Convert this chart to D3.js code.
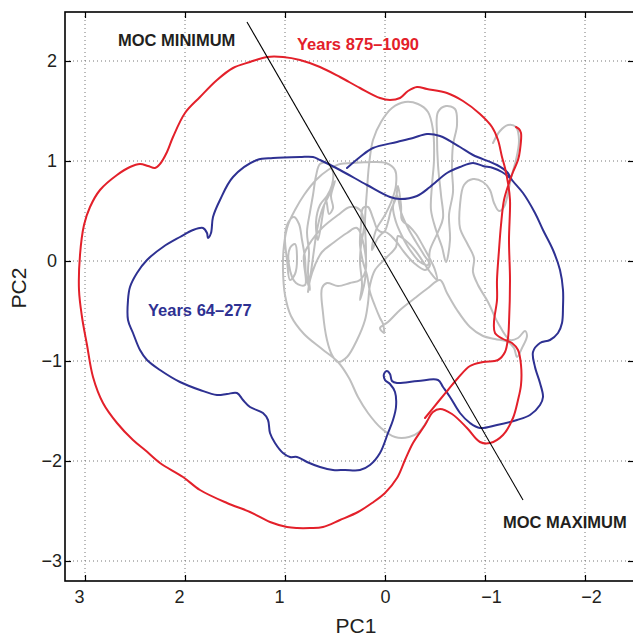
<!DOCTYPE html>
<html>
<head>
<meta charset="utf-8">
<script src="https://cdn.jsdelivr.net/npm/d3@7"></script>
<style>
  html, body { margin: 0; padding: 0; background: #fff; }
  svg { display: block; font-family: "Liberation Sans", Arial, Helvetica, sans-serif; }
</style>
</head>
<body>
<svg id="chart" width="633" height="636"></svg>
<script>
// PC1 / PC2 trajectories, in principal-component units
const xTicks = [3, 2, 1, 0, -1, -2];
const yTicks = [2, 1, 0, -1, -2, -3];

// Years 875–1090 (red)
const redPC1 = [-1.31,-1.34,-1.36,-1.35,-1.33,-1.28,-1.24,-1.19,-1.16,-1.14,-1.12,-1.12,-1.09,-1.10,-1.18,-1.27,-1.33,-1.36,-1.36,-1.33,-1.28,-1.18,-1.05,-0.95,-0.82,-0.67,-0.55,-0.48,-0.40,-0.28,-0.20,-0.12,0.00,0.13,0.27,0.45,0.62,0.75,0.88,0.98,1.15,1.35,1.58,1.85,2.02,2.25,2.40,2.52,2.68,2.82,2.92,2.98,3.03,3.06,3.05,3.01,2.95,2.85,2.68,2.55,2.45,2.37,2.30,2.25,2.18,2.12,2.00,1.85,1.68,1.52,1.35,1.18,1.02,0.85,0.65,0.45,0.25,0.05,-0.05,-0.15,-0.23,-0.32,-0.42,-0.62,-0.78,-0.95,-1.07,-1.13,-1.17,-1.20,-1.23,-1.25,-1.24,-1.25,-1.24,-1.23,-1.20,-1.13,-0.98,-0.85,-0.73,-0.63,-0.53,-0.40];
const redPC2 = [1.34,1.32,1.28,1.11,1.01,0.89,0.78,0.61,0.36,0.11,-0.19,-0.39,-0.61,-0.72,-0.78,-0.82,-0.89,-1.04,-1.24,-1.39,-1.57,-1.74,-1.82,-1.81,-1.67,-1.53,-1.48,-1.51,-1.64,-1.82,-1.99,-2.17,-2.32,-2.42,-2.51,-2.59,-2.66,-2.67,-2.67,-2.66,-2.61,-2.51,-2.42,-2.29,-2.16,-2.02,-1.89,-1.79,-1.62,-1.42,-1.16,-0.84,-0.56,-0.29,0.06,0.36,0.54,0.71,0.86,0.94,0.97,0.95,0.93,0.97,1.09,1.24,1.48,1.64,1.81,1.93,1.99,2.04,2.04,2.01,1.94,1.84,1.73,1.63,1.61,1.63,1.70,1.74,1.72,1.68,1.60,1.47,1.34,1.21,1.04,0.93,0.78,0.61,0.21,-0.19,-0.62,-0.77,-0.91,-0.99,-1.01,-1.05,-1.17,-1.29,-1.41,-1.57];

// Years 64–277 (blue)
const bluePC1 = [0.38,0.25,0.12,-0.12,-0.28,-0.42,-0.55,-0.75,-0.88,-1.12,-1.22,-1.27,-1.38,-1.50,-1.58,-1.68,-1.75,-1.78,-1.78,-1.77,-1.73,-1.65,-1.55,-1.48,-1.50,-1.55,-1.58,-1.55,-1.45,-1.32,-1.12,-0.95,-0.85,-0.75,-0.65,-0.58,-0.53,-0.33,-0.12,-0.07,-0.05,-0.02,0.01,0.00,-0.05,-0.10,-0.11,-0.08,-0.03,0.05,0.15,0.25,0.40,0.52,0.65,0.78,0.88,0.95,1.02,1.10,1.15,1.17,1.22,1.35,1.42,1.48,1.58,1.68,1.85,2.05,2.25,2.38,2.45,2.52,2.57,2.57,2.55,2.48,2.38,2.22,2.05,1.92,1.82,1.78,1.77,1.74,1.72,1.65,1.52,1.28,1.12,0.85,0.72,0.65,0.45,0.18,-0.05,-0.15,-0.32,-0.45,-0.62,-0.75,-0.88,-0.98,-1.08,-1.17,-1.25];
const bluePC2 = [0.93,1.04,1.13,1.19,1.23,1.27,1.25,1.14,1.06,0.96,0.89,0.81,0.68,0.48,0.31,0.11,-0.09,-0.29,-0.46,-0.62,-0.72,-0.79,-0.82,-0.91,-1.06,-1.22,-1.36,-1.44,-1.54,-1.59,-1.64,-1.67,-1.62,-1.52,-1.36,-1.26,-1.19,-1.20,-1.22,-1.20,-1.13,-1.10,-1.13,-1.19,-1.23,-1.31,-1.46,-1.59,-1.72,-1.92,-2.04,-2.09,-2.09,-2.09,-2.06,-2.01,-1.96,-1.96,-1.92,-1.82,-1.72,-1.59,-1.52,-1.46,-1.39,-1.32,-1.33,-1.34,-1.29,-1.21,-1.09,-0.99,-0.89,-0.72,-0.59,-0.39,-0.26,-0.12,0.01,0.14,0.24,0.31,0.33,0.28,0.23,0.28,0.44,0.61,0.84,1.01,1.03,1.04,1.04,1.01,0.91,0.76,0.64,0.62,0.65,0.74,0.88,0.94,0.98,0.95,0.93,0.89,0.83];

// Remaining years (grey), one continuous trajectory
const greyPC1 = [
  -1.08,-1.15,-1.23,-1.31,-1.34,-1.31,-1.26,-1.23,-1.19,-1.14,-1.09,-1.05,-0.98,-0.88,-0.79,-0.75,-0.75,-0.82,-0.89,-0.88,-0.93,-1.03,-1.13,-1.25,-1.33,-1.40,-1.42,-1.37,-1.32,-1.29,-1.23,-1.10,-0.98,-0.85,-0.72,-0.62,-0.55,
  -0.43,-0.30,-0.15,-0.03,0.05,0.01,0.02,
  0.05,0.10,0.15,0.18,0.22,0.25,0.24,0.22,0.17,0.12,0.07,0.01,-0.03,-0.06,-0.11,-0.13,-0.16,-0.17,-0.24,-0.31,-0.38,-0.45,-0.50,-0.52,-0.45,-0.37,-0.29,-0.20,-0.13,-0.11,-0.01,0.10,0.15,0.17,0.20,0.28,0.38,0.47,0.53,0.58,0.62,0.63,0.58,0.47,0.35,0.25,0.19,
  0.28,0.38,0.52,0.63,0.70,0.75,0.77,0.74,0.71,0.68,0.63,0.56,0.50,0.54,0.52,0.56,0.59,
  0.67,0.69,0.65,0.58,0.53,0.52,0.57,0.65,0.69,0.72,0.75,0.78,0.76,0.77,0.75,
  0.79,0.80,0.83,0.86,0.91,0.97,1.00,0.98,0.95,0.90,0.88,0.90,0.95,0.96,0.89,0.80,
  0.81,0.73,0.63,0.47,0.35,0.25,0.21,0.24,0.25,0.23,0.25,0.20,0.19,0.20,0.18,0.16,0.12,0.04,-0.07,-0.20,-0.33,-0.43,-0.48,-0.49,-0.47,-0.46,-0.51,-0.57,-0.61,
  -0.65,-0.64,-0.68,-0.67,-0.68,-0.72,-0.70,-0.61,-0.53,-0.52,-0.53,-0.56,-0.58,-0.53,
  -0.45,-0.43,-0.35,-0.25,-0.17,-0.11,-0.08,-0.12,-0.16,-0.23,-0.31,-0.39,-0.45,-0.40,-0.29,-0.19,-0.10,0.00,0.07,0.13,0.09,0.00,-0.07,-0.11,-0.10,-0.01,0.15,0.33,0.45,0.57,
  0.69,0.81,0.90,0.97,1.01,1.02,1.00,0.94,0.81,0.63,0.47,0.36,0.27,0.17,0.04,-0.10,-0.24,-0.34,-0.42];
const greyPC2 = [
  1.18,1.30,1.36,1.34,1.21,1.01,0.83,0.68,0.54,0.50,0.58,0.71,0.79,0.82,0.76,0.56,0.33,0.18,0.03,-0.11,-0.24,-0.41,-0.62,-0.79,-0.77,-0.70,-0.75,-0.87,-0.96,-0.87,-0.81,-0.78,-0.75,-0.66,-0.49,-0.32,-0.19,
  -0.27,-0.37,-0.49,-0.61,-0.67,-0.72,-0.63,
  -0.57,-0.45,-0.31,-0.14,-0.01,0.16,0.36,0.53,0.54,0.43,0.31,0.29,0.39,0.51,0.63,0.75,0.56,0.41,0.35,0.27,0.15,0.02,-0.09,-0.19,-0.11,0.01,0.12,0.21,0.25,0.14,0.03,-0.09,-0.24,-0.42,-0.59,-0.79,-0.96,-1.01,-0.94,-0.79,-0.52,-0.27,-0.22,-0.25,-0.22,-0.19,-0.07,
  0.33,0.28,0.18,0.09,-0.04,-0.19,-0.31,-0.11,0.11,0.31,0.51,0.66,0.80,0.65,0.53,0.47,0.61,
  0.21,0.39,0.56,0.65,0.76,0.89,0.98,0.97,0.85,0.66,0.49,0.29,0.09,-0.11,-0.29,
  -0.14,0.03,0.21,0.37,0.44,0.38,0.25,0.01,-0.19,-0.13,0.04,0.17,0.13,-0.04,-0.22,-0.24,
  0.06,0.21,0.33,0.46,0.54,0.51,0.36,0.16,-0.01,-0.24,-0.39,-0.19,0.11,0.39,0.71,0.96,1.21,1.39,1.53,1.59,1.57,1.49,1.31,1.01,0.76,0.51,0.31,0.14,-0.01,
  0.21,0.46,0.69,0.91,1.16,1.36,1.52,1.55,1.49,1.26,0.96,0.66,0.43,0.29,
  0.11,-0.04,-0.01,0.11,0.25,0.39,0.54,0.66,0.49,0.33,0.19,0.06,-0.04,-0.09,-0.02,0.09,0.21,0.29,0.23,0.11,0.31,0.46,0.61,0.76,0.91,0.98,0.99,0.98,0.97,0.91,
  0.81,0.66,0.51,0.36,0.16,-0.09,-0.34,-0.55,-0.73,-0.88,-1.01,-1.17,-1.36,-1.52,-1.67,-1.76,-1.76,-1.71,-1.60];

// Dividing line between MOC minimum and maximum states
const mocPC1 = [1.38, -1.38];
const mocPC2 = [2.39, -2.39];

// Text annotations
const annotations = [
  { text: "MOC MINIMUM", pc1: 2.67, pc2: 2.15, color: "#231f20" },
  { text: "Years 875\u20131090", pc1: 0.88, pc2: 2.11, color: "#e3202a" },
  { text: "Years 64\u2013277", pc1: 2.37, pc2: -0.55, color: "#2e3192" },
  { text: "MOC MAXIMUM", pc1: -1.18, pc2: -2.67, color: "#231f20" }
];

(function draw() {
  const svg = d3.select("#chart");
  const plotL = 65, plotR = 634, plotT = 12, plotB = 581;

  // PC1 axis runs from positive (left) to negative (right)
  const x = d3.scaleLinear().domain([3.2, -2.49]).range([plotL, plotR]);
  const y = d3.scaleLinear().domain([2.49, -3.2]).range([plotT, plotB]);

  svg.append("rect").attr("width", 633).attr("height", 636).attr("fill", "#fff");

  // dotted grid
  const grid = svg.append("g").attr("stroke", "#666").attr("stroke-width", 0.9)
    .attr("stroke-dasharray", "1,3");
  grid.selectAll("line.vx").data(xTicks).join("line").attr("class", "vx")
    .attr("x1", d => x(d)).attr("x2", d => x(d)).attr("y1", plotT).attr("y2", plotB);
  grid.selectAll("line.hy").data(yTicks).join("line").attr("class", "hy")
    .attr("y1", d => y(d)).attr("y2", d => y(d)).attr("x1", plotL).attr("x2", plotR);

  const line = d3.line().x(d => x(d[0])).y(d => y(d[1])).curve(d3.curveCatmullRom.alpha(0.5));
  const zip = (a, b) => a.map((v, i) => [v, b[i]]);

  const series = [
    { pc1: greyPC1, pc2: greyPC2, color: "#bfbfbf" },
    { pc1: bluePC1, pc2: bluePC2, color: "#2e3192" },
    { pc1: redPC1, pc2: redPC2, color: "#e3202a" }
  ];
  series.forEach(s => {
    svg.append("path").datum(zip(s.pc1, s.pc2)).attr("d", line)
      .attr("fill", "none").attr("stroke", s.color).attr("stroke-width", 2)
      .attr("stroke-linejoin", "round").attr("stroke-linecap", "round");
  });

  svg.append("line")
    .attr("x1", x(mocPC1[0])).attr("y1", y(mocPC2[0]))
    .attr("x2", x(mocPC1[1])).attr("y2", y(mocPC2[1]))
    .attr("stroke", "#000").attr("stroke-width", 1.1);

  // axes with inward ticks on all four sides
  const fmt = d => d < 0 ? "\u2212" + Math.abs(d) : String(d);
  const gx = svg.append("g").attr("transform", `translate(0,${plotB})`)
    .call(d3.axisBottom(x).tickValues(xTicks).tickSize(-6).tickPadding(9).tickFormat(fmt));
  gx.selectAll("text").attr("dx", d => d > 0 ? -6 : d < 0 ? 6 : 0);
  const gy = svg.append("g").attr("transform", `translate(${plotL},0)`)
    .call(d3.axisLeft(y).tickValues(yTicks).tickSize(-6).tickPadding(8).tickFormat(fmt));
  gy.selectAll("text").attr("dx", d => d < 0 ? 5 : 0);
  svg.append("g").attr("transform", `translate(0,${plotT})`)
    .call(d3.axisTop(x).tickValues(xTicks).tickSize(-6).tickFormat(""));
  svg.append("g").attr("transform", `translate(${plotR},0)`)
    .call(d3.axisRight(y).tickValues(yTicks).tickSize(-6).tickFormat(""));

  svg.selectAll(".domain").remove();
  svg.selectAll(".tick line").attr("stroke", "#000").attr("stroke-width", 1.2);
  svg.selectAll(".tick text").attr("font-size", 18).attr("fill", "#231f20")
    .attr("font-family", "'Liberation Sans', Arial, Helvetica, sans-serif");

  svg.append("rect").attr("x", plotL).attr("y", plotT)
    .attr("width", plotR - plotL).attr("height", plotB - plotT)
    .attr("fill", "none").attr("stroke", "#000").attr("stroke-width", 1.6);

  // axis titles
  svg.append("text").attr("x", 356).attr("y", 633).attr("text-anchor", "middle")
    .attr("font-size", 21).attr("fill", "#231f20").text("PC1");
  svg.append("text").attr("transform", "translate(26,288) rotate(-90)")
    .attr("text-anchor", "middle").attr("font-size", 21).attr("fill", "#231f20").text("PC2");

  svg.selectAll("text.note").data(annotations).join("text")
    .attr("class", "note")
    .attr("x", d => x(d.pc1)).attr("y", d => y(d.pc2))
    .attr("font-size", 16.5).attr("font-weight", "bold")
    .attr("fill", d => d.color).text(d => d.text);
})();
</script>
</body>
</html>
